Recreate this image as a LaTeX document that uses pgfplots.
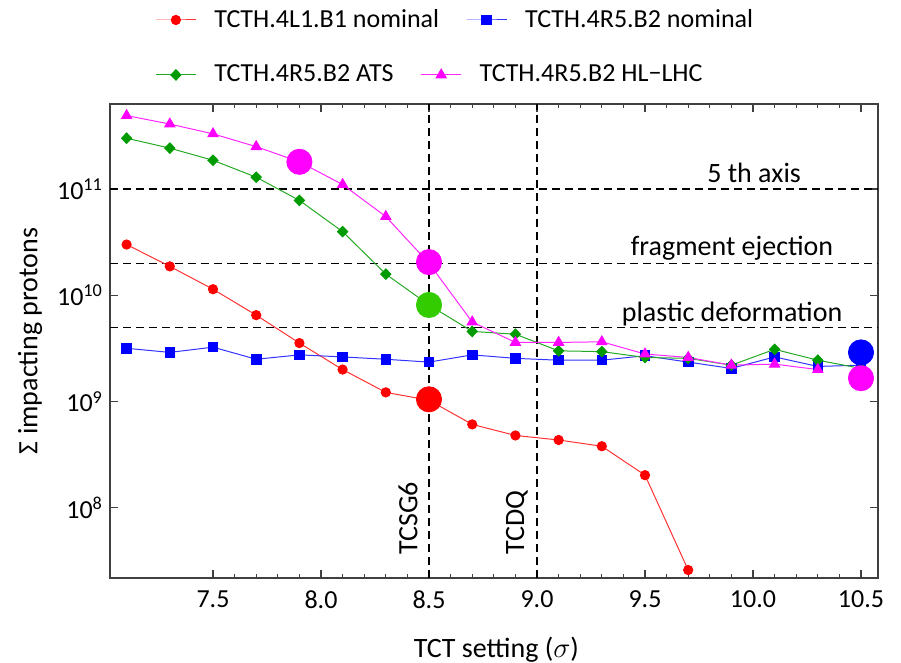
\documentclass[border=0pt]{standalone}
\usepackage{pgfplots}
\pgfplotsset{compat=1.18}
\usepackage{fontspec}
\setmainfont{Carlito}
\definecolor{mgreen}{RGB}{0,155,0}
\definecolor{bgreen}{RGB}{51,204,0}
\definecolor{mmag}{RGB}{255,0,255}
\definecolor{mred}{RGB}{255,0,0}
\definecolor{mblue}{RGB}{0,0,255}
\begin{document}
\begin{tikzpicture}
\useasboundingbox (-55pt,-42.5pt) rectangle (395.5pt,289pt);
\begin{axis}[
  at={(0,0)}, anchor=south west,
  scale only axis, width=384pt, height=237pt,
  xmin=7.0231, xmax=10.5787,
  ymode=log, log basis y=10, ymin=2.19e7, ymax=6.3e11,
  xtick={7.5,8,8.5,9,9.5,10,10.5}, minor x tick num=4,
  ytick={1e8,1e9,1e10,1e11},
  yticklabel={10\textsuperscript{\pgfmathprintnumber[fixed,precision=0,assume math mode=true]{\tick}}},
  x tick label style={/pgf/number format/fixed, /pgf/number format/fixed zerofill, /pgf/number format/precision=1, /pgf/number format/assume math mode=true, yshift=-3pt},
  tick label style={font=\fontsize{13}{15}\selectfont},
  major tick length=3.8pt, minor tick length=2pt,
  axis line style={black!75, line width=0.7pt},
  every tick/.style={black!75, line width=0.6pt},
  xlabel={TCT setting ($\sigma$)},
  ylabel={Σ impacting protons},
  label style={font=\fontsize{14}{16}\selectfont},
  x label style={at={(axis description cs:0.503,-0.152)}, anchor=center},
  y label style={at={(axis description cs:-0.104,0.5)}, anchor=center},
  legend columns=2,
  legend style={at={(0.0586,1.1772)}, anchor=west, draw=none, fill=none, inner sep=0pt,
    font=\fontsize{13}{15}\selectfont, nodes={inner sep=0pt},
    /tikz/every odd column/.append style={column sep=9pt},
    /tikz/every even column/.append style={column sep=13.5pt}},
  legend image code/.code={\draw[mark repeat=2,mark phase=2,#1] plot coordinates {(0pt,0pt)(10pt,0pt)(20pt,0pt)};},
]
% reference lines
\addplot[forget plot, black, line width=0.55pt, dash pattern=on 4pt off 2.5pt] coordinates {(7.0231,1e11)(10.5787,1e11)};
\addplot[forget plot, black, line width=0.55pt, dash pattern=on 4pt off 2.5pt] coordinates {(7.0231,2e10)(10.5787,2e10)};
\addplot[forget plot, black, line width=0.55pt, dash pattern=on 4pt off 2.5pt] coordinates {(7.0231,5e9)(10.5787,5e9)};
\addplot[forget plot, black, line width=0.55pt, dash pattern=on 4pt off 2.5pt] coordinates {(8.5,2.19e7)(8.5,6.3e11)};
\addplot[forget plot, black, line width=0.55pt, dash pattern=on 4pt off 2.5pt] coordinates {(9.0,2.19e7)(9.0,6.3e11)};

\addplot[mred!80, line width=0.5pt, mark=*, mark size=2.3pt, mark options={draw=mred, fill=mred}] coordinates {
(7.1,3.0e10)(7.3,1.87e10)(7.5,1.14e10)(7.7,6.5e9)(7.9,3.55e9)(8.1,2.0e9)(8.3,1.22e9)(8.5,1.03e9)
(8.7,6.1e8)(8.9,4.8e8)(9.1,4.35e8)(9.3,3.8e8)(9.5,2.03e8)(9.7,2.6e7)};
\addlegendentry{TCTH.4L1.B1 nominal}
\addplot[mblue!80, line width=0.5pt, mark=square*, mark size=2.4pt, mark options={draw=mblue, fill=mblue}] coordinates {
(7.1,3.17e9)(7.3,2.9e9)(7.5,3.25e9)(7.7,2.5e9)(7.9,2.75e9)(8.1,2.63e9)(8.3,2.5e9)(8.5,2.35e9)
(8.7,2.75e9)(8.9,2.55e9)(9.1,2.45e9)(9.3,2.45e9)(9.5,2.7e9)(9.7,2.35e9)(9.9,2.05e9)(10.1,2.63e9)
(10.3,2.14e9)(10.5,2.2e9)};
\addlegendentry{TCTH.4R5.B2 nominal}
\addplot[forget plot, mgreen!85, line width=0.5pt, mark=diamond*, mark size=2.6pt, mark options={draw=mgreen, fill=mgreen, xscale=1.3}] coordinates {
(7.1,3.0e11)(7.3,2.42e11)(7.5,1.86e11)(7.7,1.29e11)(7.9,7.8e10)(8.1,3.97e10)(8.3,1.58e10)(8.5,8.1e9)
(8.7,4.57e9)(8.9,4.3e9)(9.1,3.0e9)(9.3,2.95e9)(9.5,2.6e9)(9.7,2.55e9)(9.9,2.2e9)(10.1,3.1e9)
(10.3,2.45e9)(10.5,2.05e9)};
\addplot[forget plot, mmag!85, line width=0.5pt, mark=triangle*, mark size=2.9pt, mark options={draw=mmag, fill=mmag}] coordinates {
(7.1,4.9e11)(7.3,4.08e11)(7.5,3.3e11)(7.7,2.5e11)(7.9,1.8e11)(8.1,1.1e11)(8.3,5.5e10)(8.5,2.0e10)
(8.7,5.6e9)(8.9,3.6e9)(9.1,3.6e9)(9.3,3.65e9)(9.5,2.8e9)(9.7,2.6e9)(9.9,2.2e9)(10.1,2.25e9)(10.3,2.0e9)};
% highlighted points
\addplot[forget plot, only marks, mark=*, mark size=6.3pt, mark options={draw=mmag, fill=mmag}] coordinates {(7.9,1.8e11)(8.5,2.05e10)(10.5,1.66e9)};
\addplot[forget plot, only marks, mark=*, mark size=6.3pt, mark options={draw=bgreen, fill=bgreen}] coordinates {(8.5,8.1e9)};
\addplot[forget plot, only marks, mark=*, mark size=6.3pt, mark options={draw=mred, fill=mred}] coordinates {(8.5,1.05e9)};
\addplot[forget plot, only marks, mark=*, mark size=6.3pt, mark options={draw=mblue, fill=mblue}] coordinates {(10.5,2.9e9)};

\node[font=\fontsize{14}{16}\selectfont] at (axis cs:10.005,1.41e11) {5 th axis};
\node[font=\fontsize{14}{16}\selectfont] at (axis cs:9.903,2.79e10) {fragment ejection};
\node[font=\fontsize{14}{16}\selectfont] at (axis cs:9.903,6.67e9) {plastic deformation};
\node[font=\fontsize{14}{16}\selectfont, rotate=90, anchor=west, inner sep=0pt] at (axis cs:8.403,3.6e7) {TCSG6};
\node[font=\fontsize{14}{16}\selectfont, rotate=90, anchor=west, inner sep=0pt] at (axis cs:8.907,3.6e7) {TCDQ};
\end{axis}
\begin{axis}[
  at={(0,0)}, anchor=south west,
  scale only axis, width=384pt, height=237pt,
  hide axis, xmin=0, xmax=1, ymin=0, ymax=1,
  legend columns=2,
  legend style={at={(0.0586,1.0612)}, anchor=west, draw=none, fill=none, inner sep=0pt,
    font=\fontsize{13}{15}\selectfont, nodes={inner sep=0pt},
    /tikz/every odd column/.append style={column sep=9pt},
    /tikz/every even column/.append style={column sep=13.5pt}},
  legend image code/.code={\draw[mark repeat=2,mark phase=2,#1] plot coordinates {(0pt,0pt)(10pt,0pt)(20pt,0pt)};},
]
\addlegendimage{mgreen!85, line width=0.5pt, mark=diamond*, mark size=2.6pt, mark options={draw=mgreen, fill=mgreen, xscale=1.3}}
\addlegendentry{TCTH.4R5.B2 ATS}
\addlegendimage{mmag!85, line width=0.5pt, mark=triangle*, mark size=2.9pt, mark options={draw=mmag, fill=mmag}}
\addlegendentry{TCTH.4R5.B2 HL−LHC}
\end{axis}
\end{tikzpicture}
\end{document}
